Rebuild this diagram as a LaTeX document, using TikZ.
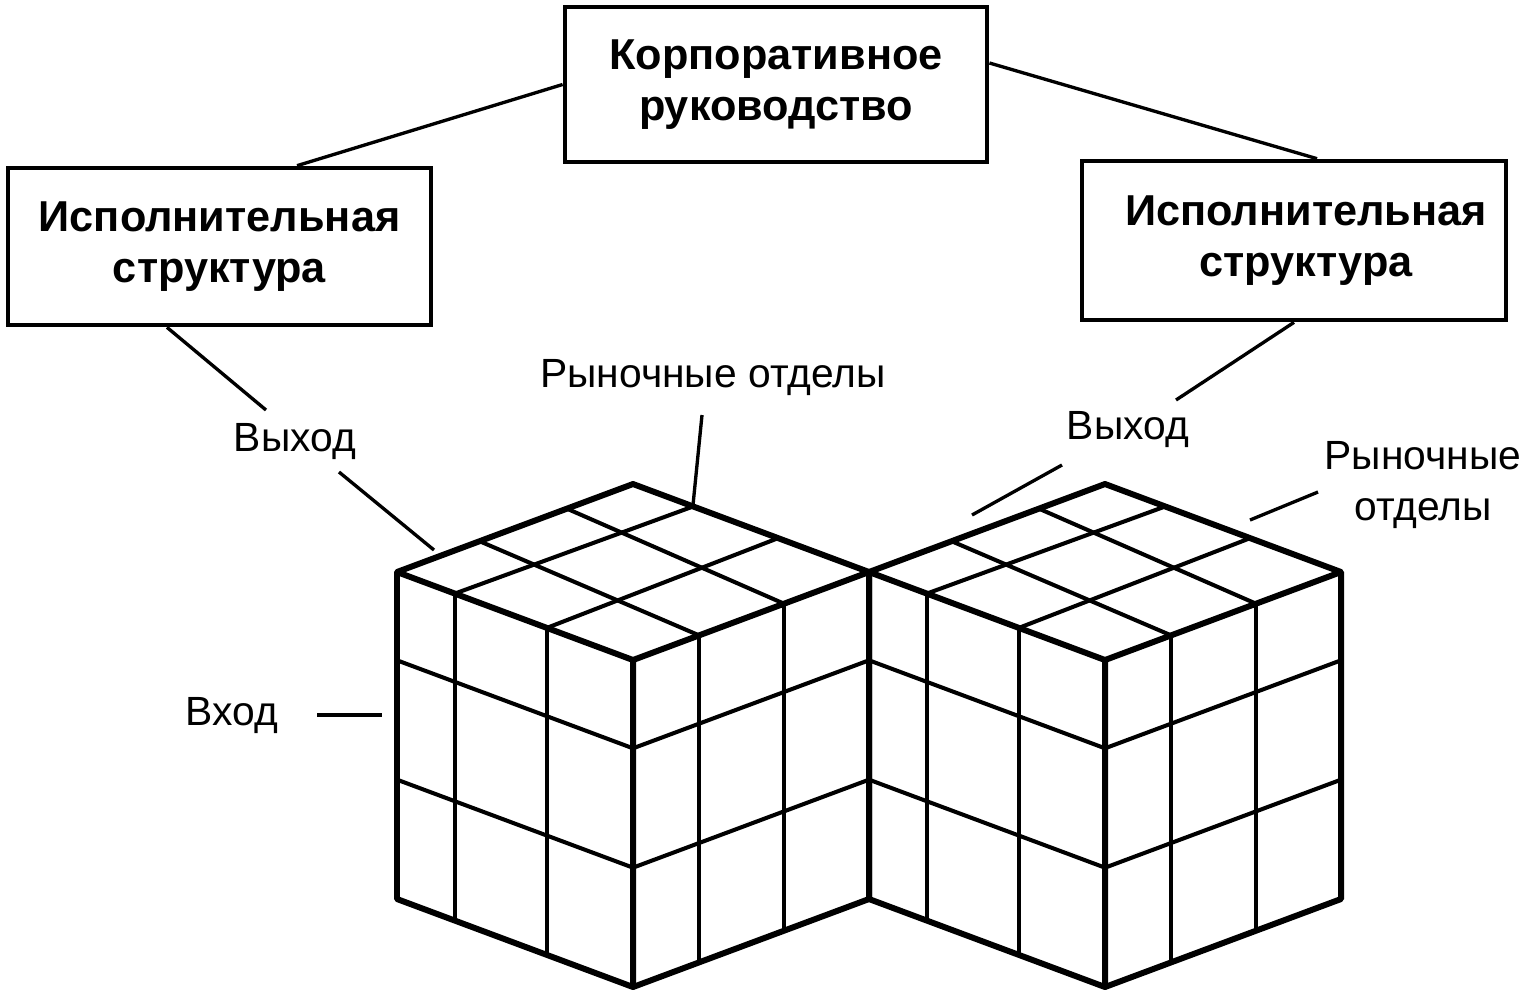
\documentclass[tikz,border=0pt]{standalone}
\usepackage{fontspec}
\setmainfont{Liberation Sans}
\usetikzlibrary{calc}
\newcommand\mycube[2]{%
  \coordinate (#1F) at (#2,660);
  \coordinate (#1L) at (#2-236,572);
  \coordinate (#1R) at (#2+236,572);
  \coordinate (#1B) at (#2,484);
  \coordinate (#1f) at (#2,987);
  \coordinate (#1l) at (#2-236,899);
  \coordinate (#1r) at (#2+236,899);
  \foreach \t in {0.245,0.635} \draw[gridline] ($(#1L)!\t!(#1F)$) -- ($(#1l)!\t!(#1f)$);
  \foreach \t in {0.28,0.64} \draw[gridline] ($(#1F)!\t!(#1R)$) -- ($(#1f)!\t!(#1r)$);
  \foreach \s in {0.27,0.635} \draw[gridline] ($(#1L)!\s!(#1l)$) -- ($(#1F)!\s!(#1f)$) -- ($(#1R)!\s!(#1r)$);
  \foreach \p/\q in {0.35/0.28,0.72/0.64} \draw[gridline] ($(#1L)!\p!(#1B)$) -- ($(#1F)!\q!(#1R)$);
  \foreach \p/\q in {0.245/0.255,0.635/0.615} \draw[gridline] ($(#1L)!\p!(#1F)$) -- ($(#1B)!\q!(#1R)$);
  \draw[cubeedge] (#1L) -- (#1B) -- (#1R) -- (#1r) -- (#1f) -- (#1l) -- cycle;
  \draw[cubeedge] (#1L) -- (#1F) -- (#1R) (#1F) -- (#1f);
}
\begin{document}
\begin{tikzpicture}[x=0.01cm,y=-0.01cm,
  box/.style={draw,line width=1.3pt,font=\bfseries\fontsize{12.3}{14.6}\selectfont,align=center,inner sep=0pt},
  lbl/.style={font=\fontsize{11.6}{14.5}\selectfont,align=center,inner sep=0pt},
  conn/.style={line width=0.95pt},
  gridline/.style={line width=1.15pt},
  cubeedge/.style={line width=1.7pt,line join=round}]
\useasboundingbox (0,0) rectangle (1534,990);
% boxes
\node[box,minimum width=4.22cm,minimum height=1.55cm] (top) at (776,84.5) {Корпоративное\\руководство};
\node[box,minimum width=4.23cm,minimum height=1.57cm] (lbox) at (219.5,246.5) {Исполнительная\\структура};
\node[box,minimum width=4.24cm,minimum height=1.59cm] (rbox) at (1294,240.5) {\hspace*{0.24cm}Исполнительная\\\hspace*{0.24cm}структура};
% labels
\node[lbl] (outL) at (295,442) {Выход};
\node[lbl] (mktL) at (713,378) {Рыночные отделы};
\node[lbl] (outR) at (1128,430) {Выход};
\node[lbl] (mktR) at (1423,485) {Рыночные\\отделы};
\node[lbl] (inp) at (232,716) {Вход};
% cubes
\mycube{A}{633}
\mycube{C}{1105}
% connectors
\draw[conn] (top.west) -- ([xshift=0.775cm]lbox.north);
\draw[conn] ([yshift=0.215cm]top.east) -- ([xshift=0.23cm]rbox.north);
\coordinate (lEnd) at (266,410);
\draw[conn] ([xshift=-0.525cm]lbox.south) -- (lEnd);
\coordinate (rEnd) at (1176,400);
\draw[conn] (rbox.south) -- (rEnd);
\coordinate (o1) at (339,472); \coordinate (o2) at (434,550);
\draw[conn] (o1) -- (o2);
\coordinate (m1) at (702,415); \coordinate (m2) at (693,505);
\draw[conn] (m1) -- (m2);
\coordinate (p1) at (1062,465); \coordinate (p2) at (972,515);
\draw[conn] (p1) -- (p2);
\coordinate (q1) at (1318,492); \coordinate (q2) at (1250,520);
\draw[conn] (q1) -- (q2);
\coordinate (i1) at (317,715); \coordinate (i2) at (382,715);
\draw[conn] (i1) -- (i2);
\end{tikzpicture}
\end{document}
